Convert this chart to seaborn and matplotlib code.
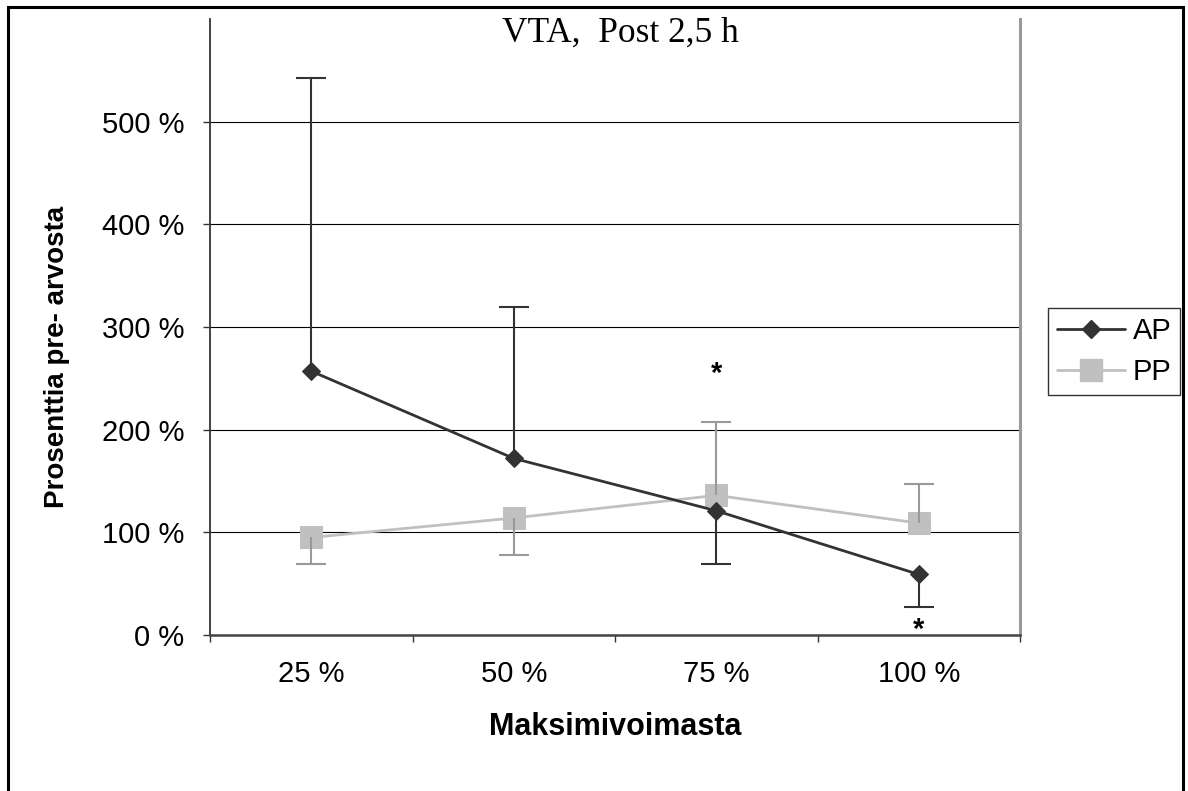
import matplotlib
matplotlib.use('Agg')
import matplotlib.pyplot as plt
import seaborn as sns
import numpy as np
import pandas as pd
from matplotlib.patches import Rectangle
from matplotlib.lines import Line2D

# ---- data ----
categories = ['25 %', '50 %', '75 %', '100 %']
ap_values = [257, 172, 121, 59]
pp_values = [95, 114, 136, 109]
ap_err_end = [543, 319, 69, 27]
pp_err_end = [69, 78, 207, 147]
star_categories = ['75 %', '100 %']
star_values = [254, 5]
y_ticks = [0, 100, 200, 300, 400, 500]
title = 'VTA,  Post 2,5 h'
xlabel = 'Maksimivoimasta'
ylabel = 'Prosenttia pre- arvosta'

sns.set_theme(style='white')
plt.rcParams['font.family'] = ['Liberation Sans', 'DejaVu Sans']

W, H = 1188, 791
fig = plt.figure(figsize=(W / 100, H / 100), dpi=100)
ax = fig.add_axes([210 / W, 1 - 635 / H, 810 / W, 616 / H])

pos = np.arange(len(categories))
df_ap = pd.DataFrame({'pos': pos, 'val': ap_values})
df_pp = pd.DataFrame({'pos': pos, 'val': pp_values})

AP_C = '#333333'
PP_C = '#c0c0c0'
PP_ERR_C = '#999999'

sns.lineplot(data=df_pp, x='pos', y='val', ax=ax, color=PP_C, lw=2,
             marker='s', markersize=16, markeredgecolor=PP_C, errorbar=None,
             zorder=3)
sns.lineplot(data=df_ap, x='pos', y='val', ax=ax, color=AP_C, lw=2,
             marker='D', markersize=9, markeredgecolor=AP_C, errorbar=None,
             zorder=4)


def draw_err(values, ends, color, capsize):
    v = np.asarray(values, float)
    e = np.asarray(ends, float)
    up = e > v
    lo = e < v
    if up.any():
        eb = ax.errorbar(pos[up], v[up], yerr=[np.zeros(up.sum()), e[up] - v[up]],
                         fmt='none', ecolor=color, elinewidth=1.5, capsize=capsize,
                         capthick=1.5, zorder=5)
        eb[1][0].set_visible(False)
    if lo.any():
        eb = ax.errorbar(pos[lo], v[lo], yerr=[v[lo] - e[lo], np.zeros(lo.sum())],
                         fmt='none', ecolor=color, elinewidth=1.5, capsize=capsize,
                         capthick=1.5, zorder=5)
        eb[1][1].set_visible(False)


draw_err(ap_values, ap_err_end, AP_C, 11)
draw_err(pp_values, pp_err_end, PP_ERR_C, 11)

for c, s in zip(star_categories, star_values):
    ax.text(categories.index(c), s, '*', ha='center', va='center',
            fontsize=21, fontweight='bold', color='black')

ax.set_xlim(-0.5, len(categories) - 0.5)
ax.set_ylim(0, 600)
ax.set_yticks(y_ticks)
ax.set_yticklabels([f'{t} %' for t in y_ticks])
ax.set_xticks(np.arange(-0.5, len(categories), 1))
ax.set_xticklabels([])
ax.set_xticks(pos, minor=True)
ax.set_xticklabels(categories, minor=True)
ax.tick_params(axis='x', which='major', direction='out', length=5, width=1,
               color='#333333', bottom=True)
ax.tick_params(axis='x', which='minor', length=0, pad=18, labelsize=21,
               labelcolor='black', bottom=True)
ax.tick_params(axis='y', direction='out', length=5, width=1, color='#333333',
               pad=13.5, labelsize=21, labelcolor='black', left=True)
ax.grid(axis='y', color='black', lw=0.8)
ax.grid(axis='x', visible=False)
ax.set_axisbelow(True)

ax.spines['top'].set_visible(False)
ax.spines['left'].set_color('#333333')
ax.spines['left'].set_linewidth(1.3)
ax.spines['bottom'].set_color('#444444')
ax.spines['bottom'].set_linewidth(1.8)
ax.spines['right'].set_color('#999999')
ax.spines['right'].set_linewidth(2.2)

ax.set_xlabel(xlabel, fontsize=22, fontweight='bold', color='black')
ax.xaxis.set_label_coords(0.5, -0.125)
ax.set_ylabel(ylabel, fontsize=20, fontweight='bold', color='black')
ax.yaxis.set_label_coords(-0.189, 0.451)
ax.yaxis.label.set_verticalalignment('center')

fig.text(620 / W, 1 - 33 / H, title, ha='center', va='center',
         family='Liberation Serif', fontsize=25.5, color='black')

handles = [Line2D([], [], color=AP_C, lw=2, marker='D', markersize=9),
           Line2D([], [], color=PP_C, lw=2, marker='s', markersize=16)]
leg = fig.legend(handles, ['AP', 'PP'], loc='upper left',
                 bbox_to_anchor=(1048 / W, 1 - 308 / H), frameon=True,
                 fancybox=False, edgecolor='black', fontsize=21,
                 handlelength=2.35, borderpad=0.3, labelspacing=0.45,
                 handletextpad=0.25, borderaxespad=0)
leg.get_frame().set_linewidth(1)
for t in leg.get_texts():
    t.set_color('black')

fig.add_artist(Rectangle((8 / W, -0.05), (1183 - 8) / W, (1 - 7 / H) + 0.05,
                         transform=fig.transFigure, fill=False,
                         edgecolor='black', lw=2.2, zorder=10))

fig.savefig('out.png', dpi=100)
